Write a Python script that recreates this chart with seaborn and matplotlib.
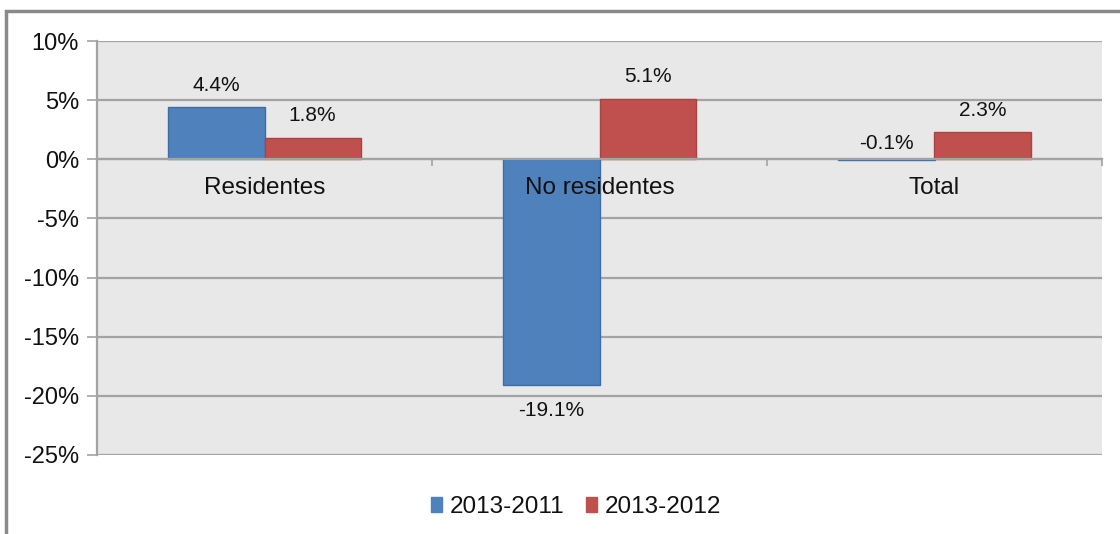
import matplotlib
matplotlib.use("Agg")
import matplotlib.pyplot as plt
from matplotlib.patches import Rectangle
from matplotlib.ticker import FixedLocator, FuncFormatter
import numpy as np
import pandas as pd
import seaborn as sns

# Variación de pernoctaciones por tipo de viajero
regions = ["Residentes", "No residentes", "Total"]
periods = ["2013-2011", "2013-2012"]
var_2013_2011 = [4.4, -19.1, -0.1]
var_2013_2012 = [1.8, 5.1, 2.3]
y_ticks = [-25, -20, -15, -10, -5, 0, 5, 10]

colors = ["#4f81bd", "#c0504d"]
edge_colors = ["#3f6da3", "#a94441"]
grid_color = "#a3a3a3"
text_color = "#111111"

df = pd.DataFrame({
    "region": regions * 2,
    "period": [periods[0]] * 3 + [periods[1]] * 3,
    "value": var_2013_2011 + var_2013_2012,
})

sns.set_style("white")
plt.rcParams["font.family"] = ["Liberation Sans", "DejaVu Sans"]

fig = plt.figure(figsize=(11.2, 5.34), dpi=100)
fig.patch.set_facecolor("white")
ax = fig.add_axes([97 / 1120, 1 - 455 / 534, (1102 - 97) / 1120, (455 - 41) / 534])
ax.set_facecolor("#e8e8e8")

sns.barplot(data=df, x="region", y="value", hue="period", order=regions,
            hue_order=periods, palette=colors, width=0.575, gap=0,
            saturation=1, linewidth=1, edgecolor=None, ax=ax, legend=False)

for cont, ec in zip(ax.containers, edge_colors):
    for bar in cont:
        bar.set_edgecolor(ec)
        bar.set_zorder(2)

# Value labels
for cont, vals in zip(ax.containers, [var_2013_2011, var_2013_2012]):
    for bar, v in zip(cont, vals):
        xc = bar.get_x() + bar.get_width() / 2
        if v >= -0.5:
            base = max(v, 0)
            off = 16 if v < 0 else 22
        else:
            base = v
            off = -25
        ax.annotate(f"{v:.1f}%", (xc, base), xytext=(0, off * 0.72),
                    textcoords="offset points", ha="center", va="center",
                    fontsize=15, color=text_color, zorder=5)

ax.set_ylim(-25, 10)
ax.set_xlim(-0.5, 2.5)
ax.yaxis.set_major_locator(FixedLocator(y_ticks))
ax.yaxis.set_major_formatter(FuncFormatter(lambda v, p: f"{v:.0f}%"))
ax.set_xlabel("")
ax.set_ylabel("")

ax.set_axisbelow(True)
ax.yaxis.grid(True, color=grid_color, linewidth=1.6)
ax.xaxis.grid(False)

for s in ["top", "right"]:
    ax.spines[s].set_visible(False)
ax.spines["left"].set_color(grid_color)
ax.spines["left"].set_linewidth(1.6)
ax.spines["bottom"].set_position(("data", 0))
ax.spines["bottom"].set_color(grid_color)
ax.spines["bottom"].set_linewidth(1.6)
ax.spines["bottom"].set_zorder(3)

ax.tick_params(axis="y", which="major", length=7, width=1.2, color=grid_color,
               labelsize=17, labelcolor=text_color, pad=6, left=True)
ax.tick_params(axis="x", which="major", length=0, labelbottom=False)
ax.xaxis.set_minor_locator(FixedLocator([0.5, 1.5, 2.5]))
ax.tick_params(axis="x", which="minor", length=5, width=1.2, color=grid_color,
               direction="out", bottom=True)

# Category names just under the zero line, drawn over the bars
for i, name in enumerate(regions):
    ax.annotate(name, (i, 0), xytext=(0, -29 * 0.72), textcoords="offset points",
                ha="center", va="center", fontsize=17.5, color=text_color,
                zorder=6, annotation_clip=False)

# Legend
handles = [Rectangle((0, 0), 1, 1, facecolor=c, edgecolor=c) for c in colors]
fig.legend(handles, periods, loc="center", bbox_to_anchor=(576 / 1120, 1 - 507 / 534),
           ncol=2, frameon=False, handlelength=0.45, handleheight=0.55,
           handletextpad=0.3, columnspacing=0.9,
           prop={"size": 17.5}, labelcolor=text_color)

# Chart frame
fig.add_artist(Rectangle((6 / 1120, -0.5), 2.0, 1.5 - 11 / 534,
                         transform=fig.transFigure, fill=False,
                         edgecolor="#8a8a8a", linewidth=2.5))

fig.savefig("out.png", dpi=100, facecolor="white")
